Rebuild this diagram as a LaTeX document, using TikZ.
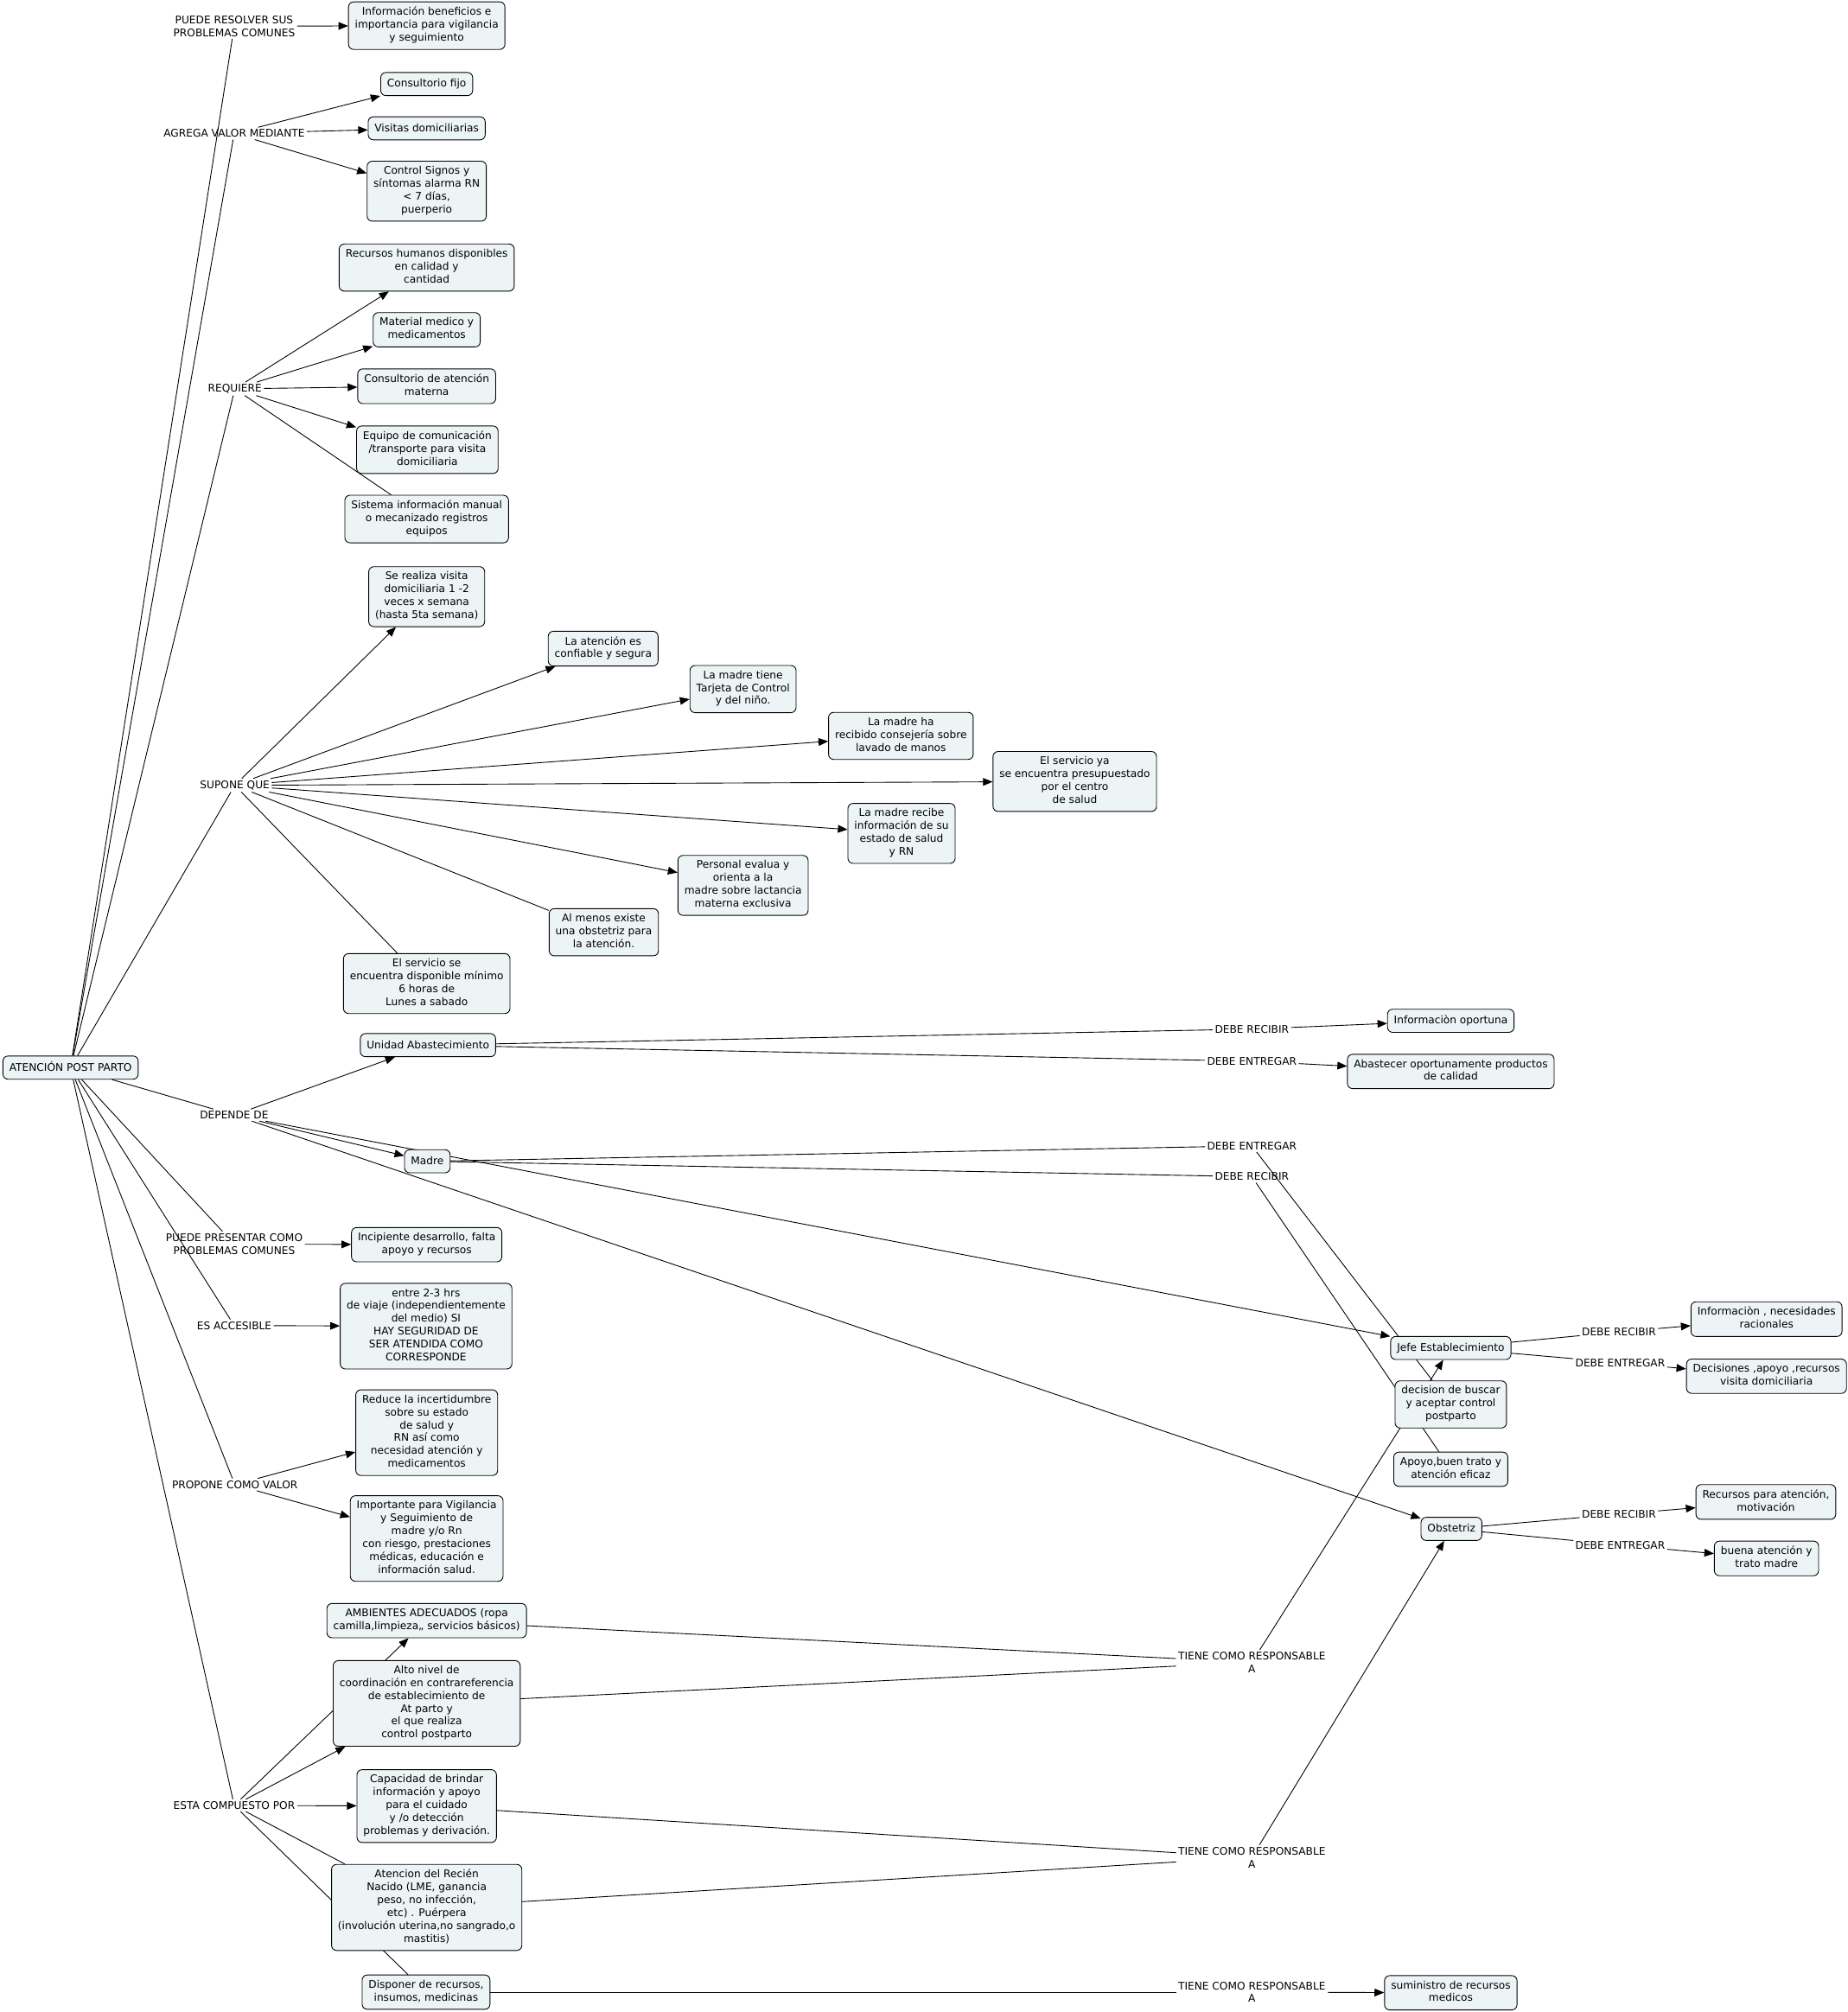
\documentclass[tikz,border=0pt]{standalone}
\usepackage{fontspec}
\setmainfont{DejaVu Sans}
\usepackage{tikz}
\usetikzlibrary{calc}
\usetikzlibrary{arrows.meta,backgrounds,shapes}
\usetikzlibrary{positioning}
\definecolor{boxfill}{rgb}{0.93,0.955,0.965}
\newcommand{\cmfont}{\fontsize{8.2}{10}\selectfont}
\newcommand{\cmstrut}{\vrule height 7.5pt depth 2.5pt width 0pt}

\begin{document}
\begin{tikzpicture}[x=1pt,y=-1pt,
  cbox/.style={draw=black, fill=boxfill, rounded corners=4pt, line width=0.6pt,
    align=center, inner xsep=5pt, inner ysep=4pt, font=\cmfont,
    execute at begin node=\cmstrut, execute at end node=\cmstrut},
  lphrase/.style={align=center, inner sep=1.5pt, font=\cmfont},
  conn/.style={line width=0.6pt},
  arr/.style={conn, -{Triangle[length=7.5pt,width=6pt]}}]
  \useasboundingbox (0,0) rectangle (1440,1568);

  \node[cbox] (main) at (55,832) {ATENCIÓN POST PARTO};

  \node[lphrase] (resolver)  at (182.5,20.5)  {PUEDE RESOLVER SUS\\PROBLEMAS COMUNES};
  \node[lphrase] (agrega)    at (182.5,104)   {AGREGA VALOR MEDIANTE};
  \node[lphrase] (requiere)  at (183,303)     {REQUIERE};
  \node[lphrase] (supone)    at (183,612)     {SUPONE QUE};
  \node[lphrase] (depende)   at (182.5,869)   {DEPENDE DE};
  \node[lphrase] (presentar) at (182.5,969.5) {PUEDE PRESENTAR COMO\\PROBLEMAS COMUNES};
  \node[lphrase] (accesible) at (182.5,1033)  {ES ACCESIBLE};
  \node[lphrase] (propone)   at (183,1157)    {PROPONE COMO VALOR};
  \node[lphrase] (compuesto) at (182.5,1407)  {ESTA COMPUESTO POR};

  \node[cbox] (infoben)  at (332.5,20)    {Información beneficios e\\importancia para vigilancia\\y seguimiento};
  \node[cbox] (consfijo) at (332.5,65.5)  {Consultorio fijo};
  \node[cbox] (visitas)  at (332.5,100)   {Visitas domiciliarias};
  \node[cbox] (signos)   at (332.5,149)   {Control Signos y\\síntomas alarma RN\\< 7 días,\\puerperio};
  \node[cbox] (rrhh)     at (332.5,208.5) {Recursos humanos disponibles\\en calidad y\\cantidad};
  \node[cbox] (material) at (332.5,257)   {Material medico y\\medicamentos};
  \node[cbox] (consmat)  at (332.5,301)   {Consultorio de atención\\materna};
  \node[cbox] (equipo)   at (333,350.5)   {Equipo de comunicación\\/transporte para visita\\domiciliaria};
  \node[cbox] (sistema)  at (332.5,404.5) {Sistema información manual\\o mecanizado registros\\equipos};

  \node[cbox] (visita)     at (332.5,465)   {Se realiza visita\\domiciliaria 1 -2\\veces x semana\\(hasta 5ta semana)};
  \node[cbox] (confiable)  at (470,505.5)   {La atención es\\confiable y segura};
  \node[cbox] (tarjeta)    at (579,537)     {La madre tiene\\Tarjeta de Control\\y del niño.};
  \node[cbox] (lavado)     at (702,573.5)   {La madre ha\\recibido consejería sobre\\lavado de manos};
  \node[cbox] (presup)     at (837.5,609)   {El servicio ya\\se encuentra presupuestado\\por el centro\\de salud};
  \node[cbox] (recibe)     at (702.5,649.5) {La madre recibe\\información de su\\estado de salud\\y RN};
  \node[cbox] (lactancia)  at (579,690)     {Personal evalua y\\orienta a la\\madre sobre lactancia\\materna exclusiva};
  \node[cbox] (unaobst)    at (470.5,726.5) {Al menos existe\\una obstetriz para\\la atención.};
  \node[cbox] (disponible) at (332.5,766.5) {El servicio se\\encuentra disponible mínimo\\6 horas de\\Lunes a sabado};

  \node[cbox] (unidad) at (333.5,814.5) {Unidad Abastecimiento};
  \node[cbox] (madre)  at (333,905)     {Madre};

  \node[cbox] (incipiente) at (332.5,970)    {Incipiente desarrollo, falta\\apoyo y recursos};
  \node[cbox] (entre)      at (332,1033.5)   {entre 2-3 hrs\\de viaje (independientemente\\del medio) SI\\HAY SEGURIDAD DE\\SER ATENDIDA COMO\\CORRESPONDE};
  \node[cbox] (reduce)     at (332.5,1116.5) {Reduce la incertidumbre\\sobre su estado\\de salud y\\RN así como\\necesidad atención y\\medicamentos};
  \node[cbox] (importante) at (332.5,1199)   {Importante para Vigilancia\\y Seguimiento de\\madre y/o Rn\\con riesgo, prestaciones\\médicas, educación e\\información salud.};

  \node[cbox] (ambientes) at (332.5,1263)   {AMBIENTES ADECUADOS (ropa\\camilla,limpieza,, servicios básicos)};
  \node[cbox] (altonivel) at (332.5,1327.5) {Alto nivel de\\coordinación en contrareferencia\\de establecimiento de\\At parto y\\el que realiza\\control postparto};
  \node[cbox] (capacidad) at (332.5,1407.5) {Capacidad de brindar\\información y apoyo\\para el cuidado\\y /o detección\\problemas y derivación.};
  \node[cbox] (recien)    at (332.5,1486.5) {Atencion del Recién\\Nacido (LME, ganancia\\peso, no infección,\\etc) . Puérpera\\(involución uterina,no sangrado,o\\mastitis)};
  \node[cbox] (disponer)  at (332,1552.5)   {Disponer de recursos,\\insumos, medicinas};

  \node[lphrase] (urecibir)  at (975.5,802)    {DEBE RECIBIR};
  \node[lphrase] (uentregar) at (975.5,827)    {DEBE ENTREGAR};
  \node[lphrase] (mentregar) at (975.5,893)    {DEBE ENTREGAR};
  \node[lphrase] (mrecibir)  at (975.5,917)    {DEBE RECIBIR};
  \node[lphrase] (respjefe)  at (975.5,1295.5) {TIENE COMO RESPONSABLE\\A};
  \node[lphrase] (respobst)  at (975.5,1447.5) {TIENE COMO RESPONSABLE\\A};
  \node[lphrase] (respsum)   at (975.5,1552.5) {TIENE COMO RESPONSABLE\\A};

  \node[cbox] (oportuna)  at (1130.5,795.5)  {Informaciòn oportuna};
  \node[cbox] (abastecer) at (1130.5,835)    {Abastecer oportunamente productos\\de calidad};
  \node[cbox] (jefe)      at (1130.5,1050.5) {Jefe Establecimiento};
  \node[cbox] (decision)  at (1130.5,1094.5) {decision de buscar\\y aceptar control\\postparto};
  \node[cbox] (apoyo)     at (1130.5,1145)   {Apoyo,buen trato y\\atención eficaz};
  \node[cbox] (obstetriz) at (1131,1191.5)   {Obstetriz};
  \node[cbox] (suministro) at (1130.5,1553)  {suministro de recursos\\medicos};

  \node[lphrase] (jrecibir)  at (1261.5,1038) {DEBE RECIBIR};
  \node[lphrase] (jentregar) at (1262.5,1062) {DEBE ENTREGAR};
  \node[lphrase] (orecibir)  at (1261.5,1180) {DEBE RECIBIR};
  \node[lphrase] (oentregar) at (1262.5,1204) {DEBE ENTREGAR};

  \node[cbox] (necesidades) at (1376.5,1028)   {Informaciòn , necesidades\\racionales};
  \node[cbox] (decisiones)  at (1376.5,1072.5) {Decisiones ,apoyo ,recursos\\visita domiciliaria};
  \node[cbox] (recursos)    at (1376,1170.5)   {Recursos para atención,\\motivación};
  \node[cbox] (buena)       at (1376.5,1214.5) {buena atención y\\trato madre};

  \begin{scope}[on background layer]
    \fill[white] (0,0) rectangle (1440,1568);
    \draw[conn] (main) -- (resolver);
    \draw[conn] (main) -- (agrega);
    \draw[conn] (main) -- (requiere);
    \draw[conn] (main) -- (supone);
    \draw[conn] (main) -- (depende);
    \draw[conn] (main) -- (presentar);
    \draw[conn] (main) -- (accesible);
    \draw[conn] (main) -- (propone);
    \draw[conn] (main) -- (compuesto);

    \draw[arr] (resolver) -- (infoben);
    \draw[arr] (agrega) -- (consfijo);
    \draw[arr] (agrega) -- (visitas);
    \draw[arr] (agrega) -- (signos);
    \draw[arr] (requiere) -- (rrhh);
    \draw[arr] (requiere) -- (material);
    \draw[arr] (requiere) -- (consmat);
    \draw[arr] (requiere) -- (equipo);
    \draw[conn] (requiere) -- (sistema);

    \draw[arr] (supone) -- (visita);
    \draw[arr] (supone) -- (confiable);
    \draw[arr] (supone) -- (tarjeta);
    \draw[arr] (supone) -- (lavado);
    \draw[arr] (supone) -- (presup);
    \draw[arr] (supone) -- (recibe);
    \draw[arr] (supone) -- (lactancia);
    \draw[conn] (supone) -- (unaobst);
    \draw[conn] (supone) -- (disponible);

    \draw[arr] (depende) -- (unidad);
    \draw[arr] (depende) -- (madre);
    \draw[arr] (depende) -- (jefe);
    \draw[arr] (depende) -- (obstetriz);
    \draw[arr] (presentar) -- (incipiente);
    \draw[arr] (accesible) -- (entre);
    \draw[arr] (propone) -- (reduce);
    \draw[arr] (propone) -- (importante);

    \draw[arr] (compuesto) -- (ambientes);
    \draw[arr] (compuesto) -- (altonivel);
    \draw[arr] (compuesto) -- (capacidad);
    \draw[conn] (compuesto) -- (recien);
    \draw[conn] (compuesto) -- (disponer);

    \draw[conn] (unidad) -- (urecibir);
    \draw[arr] (urecibir) -- (oportuna);
    \draw[conn] (unidad) -- (uentregar);
    \draw[arr] (uentregar) -- (abastecer);
    \draw[conn] (madre) -- (mentregar);
    \draw[conn] (mentregar) -- (decision);
    \draw[conn] (madre) -- (mrecibir);
    \draw[conn] (mrecibir) -- (apoyo);

    \draw[conn] (jefe) -- (jrecibir);
    \draw[arr] (jrecibir) -- (necesidades);
    \draw[conn] (jefe) -- (jentregar);
    \draw[arr] (jentregar) -- (decisiones);
    \draw[conn] (obstetriz) -- (orecibir);
    \draw[arr] (orecibir) -- (recursos);
    \draw[conn] (obstetriz) -- (oentregar);
    \draw[arr] (oentregar) -- (buena);

    \draw[conn] (ambientes) -- (respjefe);
    \draw[conn] (altonivel) -- (respjefe);
    \draw[arr] (respjefe) -- (jefe);
    \draw[conn] (capacidad) -- (respobst);
    \draw[conn] (recien) -- (respobst);
    \draw[arr] (respobst) -- (obstetriz);
    \draw[conn] (disponer) -- (respsum);
    \draw[arr] (respsum) -- (suministro);
  \end{scope}
\end{tikzpicture}
\end{document}
